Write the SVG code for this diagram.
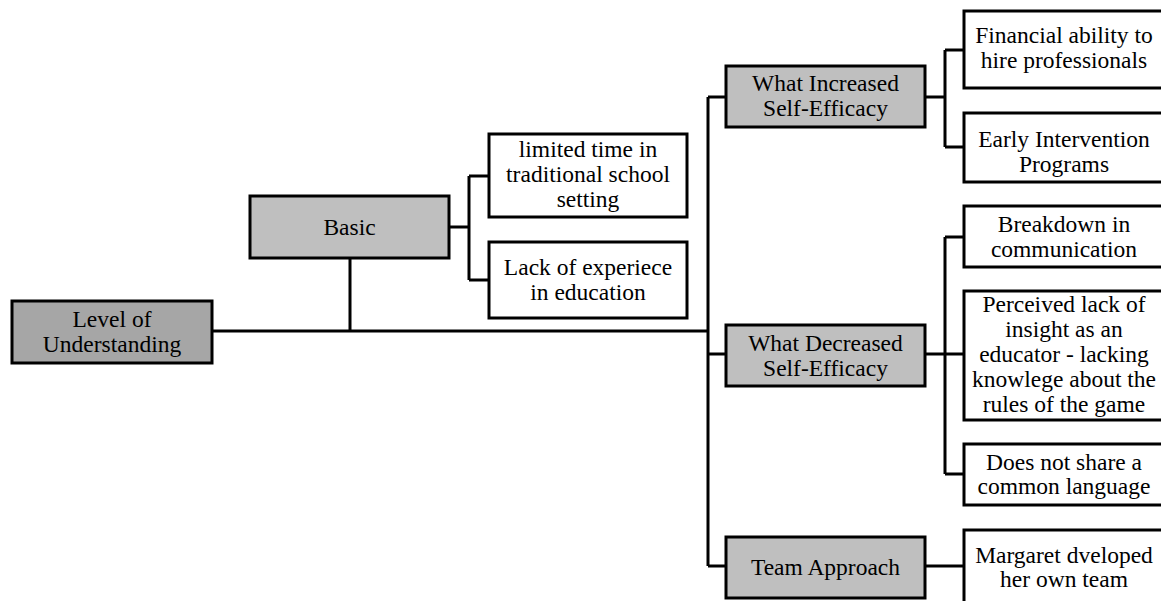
<svg xmlns="http://www.w3.org/2000/svg" width="1161" height="601" viewBox="0 0 1161 601">
<style>
rect{stroke:#000;stroke-width:3}
.g1{fill:#a6a6a6}
.g2{fill:#bfbfbf}
.w{fill:#fff}
text{font-family:"Liberation Serif","Times New Roman",serif;font-size:23.5px;fill:#000;text-anchor:middle}
#connectors path{fill:none;stroke:#000;stroke-width:3}
</style>
<rect width="1161" height="601" fill="#fff" style="stroke:none"/>
<g id="connectors">
<path d="M212,331H708M350,258V331"/>
<path d="M708,97V566M708,97H726M708,354H726M708,566H726"/>
<path d="M449,227H469M469,176V280M469,176H489M469,280H489"/>
<path d="M925,97H945M945,50V147M945,50H964M945,147H964"/>
<path d="M925,354H964M945,237V474M945,237H964M945,474H964"/>
<path d="M925,566H964"/>
</g>
<g id="level"><rect class="g1" x="12" y="301" width="200" height="62"/><text x="112" y="327">Level of</text><text x="112" y="352">Understanding</text></g>
<g id="basic"><rect class="g2" x="250" y="196" width="199" height="62"/><text x="349.5" y="235">Basic</text></g>
<g id="limited"><rect class="w" x="489" y="134" width="198" height="83"/><text x="588" y="157">limited time in</text><text x="588" y="182">traditional school</text><text x="588" y="207">setting</text></g>
<g id="lack"><rect class="w" x="489" y="242" width="198" height="76"/><text x="588" y="275">Lack of experiece</text><text x="588" y="300">in education</text></g>
<g id="increased"><rect class="g2" x="726" y="66" width="199" height="61"/><text x="825.5" y="91">What Increased</text><text x="825.5" y="116">Self-Efficacy</text></g>
<g id="financial"><rect class="w" x="964" y="11" width="200" height="77"/><text x="1064" y="43">Financial ability to</text><text x="1064" y="68">hire professionals</text></g>
<g id="early"><rect class="w" x="964" y="113" width="200" height="69"/><text x="1064" y="147">Early Intervention</text><text x="1064" y="172">Programs</text></g>
<g id="decreased"><rect class="g2" x="726" y="325" width="199" height="61"/><text x="825.5" y="351">What Decreased</text><text x="825.5" y="376">Self-Efficacy</text></g>
<g id="breakdown"><rect class="w" x="964" y="206" width="200" height="61"/><text x="1064" y="232">Breakdown in</text><text x="1064" y="257">communication</text></g>
<g id="perceived"><rect class="w" x="964" y="291" width="200" height="129"/><text x="1064" y="312">Perceived lack of</text><text x="1064" y="337">insight as an</text><text x="1064" y="362">educator - lacking</text><text x="1064" y="387">knowlege about the</text><text x="1064" y="412">rules of the game</text></g>
<g id="language"><rect class="w" x="964" y="444" width="200" height="61"/><text x="1064" y="470">Does not share a</text><text x="1064" y="494">common language</text></g>
<g id="team"><rect class="g2" x="726" y="537" width="199" height="61"/><text x="825.5" y="575">Team Approach</text></g>
<g id="margaret"><rect class="w" x="964" y="530" width="200" height="80"/><text x="1064" y="563">Margaret dveloped</text><text x="1064" y="587">her own team</text></g>
</svg>
